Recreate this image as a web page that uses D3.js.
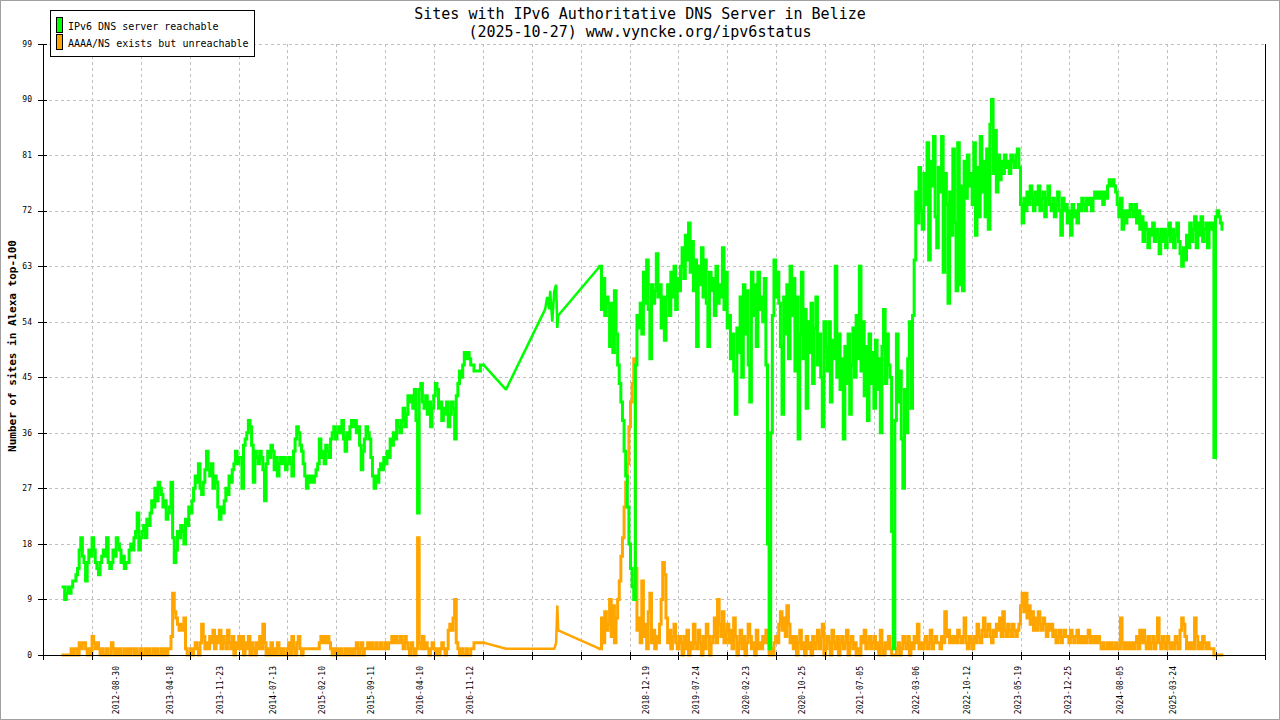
<!DOCTYPE html>
<html><head><meta charset="utf-8">
<script src="https://cdn.jsdelivr.net/npm/d3@7"></script>
<style>
body{margin:0;background:#fff}
svg{display:block}
text{font-family:"DejaVu Sans Mono","Liberation Mono",monospace;fill:#000}
</style>
</head><body>
<svg id="chart" width="1280" height="720"></svg>
<script>
const titleLines = ["Sites with IPv6 Authoritative DNS Server in Belize", "(2025-10-27) www.vyncke.org/ipv6status"];
const yAxisTitle = "Number of sites in Alexa top-100";
const seriesNames = ["IPv6 DNS server reachable", "AAAA/NS exists but unreachable"];
const seriesColors = ["#00ff00", "#ffa500"];
const yTicks = [0, 9, 18, 27, 36, 45, 54, 63, 72, 81, 90, 99];
const xDomain = ["2011-10-15", "2026-04-27"];
const xLabels = ["2012-08-30","2013-04-18","2013-11-23","2014-07-13","2015-02-10","2015-09-11","2016-04-10","2016-11-12","2018-12-19","2019-07-24","2020-02-23","2020-10-25","2021-07-05","2022-03-06","2022-10-12","2023-05-19","2023-12-25","2024-08-05","2025-03-24"];
const stepDays = 7;

// Segment 1: weekly samples from 2012-01-10
const seg1Start = "2012-01-10";
const green1 = [
11,9,10,11,10,11,12,12,13,14,
17,19,16,15,12,15,17,16,19,17,
15,14,13,15,16,17,16,19,15,14,
15,17,16,19,18,17,15,16,14,15,
15,17,18,17,19,20,23,17,19,20,
21,19,22,21,23,25,24,27,25,28,
27,26,24,25,22,23,24,28,19,15,
17,20,19,21,20,18,22,21,24,23,
25,27,29,28,31,27,26,28,30,33,
30,29,31,27,29,28,24,22,24,23,
25,27,26,29,28,30,31,33,31,32,
32,27,34,35,36,38,37,34,28,33,
32,31,33,32,30,25,31,33,32,34,
33,30,32,29,31,32,31,32,30,31,
32,31,29,33,35,37,36,34,33,31,
29,27,29,28,29,28,29,30,31,35,
32,33,31,34,33,32,35,36,37,35,
36,37,36,38,35,33,36,35,37,38,
37,38,36,37,34,30,33,35,37,36,
35,32,29,27,29,28,30,31,30,32,
31,33,32,35,34,36,35,38,37,36,
38,40,37,39,42,41,42,40,43,38,
23,43,44,41,40,42,39,41,37,40,
42,44,43,40,41,38,40,39,41,37,
39,41,40,35,42,44,46,45,47,49,
48,49,48,47,47,46,46,46,46,47,
47,47];
const orange1 = [
0,0,0,0,0,1,0,1,1,0,
2,1,2,2,1,0,1,0,3,2,
1,2,1,0,1,0,0,1,0,0,
2,1,0,1,0,1,0,0,1,0,
1,0,1,1,0,1,0,0,1,0,
0,1,0,1,0,0,1,0,1,0,
0,1,0,1,0,1,1,3,10,7,
6,5,4,5,4,6,1,0,0,1,
0,1,2,1,0,2,5,3,1,2,
1,3,2,4,1,3,2,4,1,3,
2,1,4,2,1,3,0,2,1,3,
1,3,0,2,1,3,0,2,1,0,
2,1,3,1,5,2,0,1,0,2,
0,1,0,2,1,0,1,0,0,1,
2,0,3,1,0,2,3,1,0,1,
1,1,1,1,1,1,1,1,1,2,
3,2,3,2,3,2,1,0,1,0,
1,0,1,0,0,1,0,1,0,1,
0,1,2,0,1,2,0,1,1,2,
1,2,1,1,2,1,1,2,1,1,
2,1,2,2,3,2,3,2,2,3,
2,1,3,2,1,0,2,1,0,1,
19,2,1,3,1,2,1,0,1,2,
1,0,1,0,1,2,1,0,1,4,
5,4,6,9,2,1,0,1,0,0,
1,0,0,1,1,2,2,2,2,2,
2,2];

// Sparse period 2017
const gapDates = ["2017-04-17","2017-10-04","2017-10-13","2017-10-22","2017-10-26","2017-11-04","2017-11-13","2017-11-21","2017-11-26","2017-11-30"];
const gapGreen = [43,56,58,56,59,54,59,60,53,55];
const gapOrange = [1,1,1,1,1,1,1,2,8,4];

// Segment 3: weekly samples from 2018-05-30
const seg3Start = "2018-05-30";
const green3 = [
63,56,61,55,58,57,50,57,49,59,
52,47,44,41,38,33,29,24,18,14,
11,9,47,55,53,57,52,62,57,64,
56,48,60,57,59,65,58,60,53,58,
51,58,60,55,62,58,63,56,61,59,
63,66,61,68,64,70,62,67,59,64,
50,63,60,66,58,64,57,50,62,59,
61,55,63,57,60,58,66,56,62,53,
55,48,52,46,39,53,49,58,45,60,
52,59,47,41,62,55,60,50,62,56,
58,54,61,47,18,1,36,55,64,58,
62,57,50,39,58,52,60,48,63,55,
61,46,58,35,52,62,48,56,40,54,
49,57,44,53,58,47,52,45,37,54,
50,46,54,41,51,48,63,45,52,43,
48,35,50,44,52,39,47,53,45,55,
48,63,46,54,42,50,38,52,44,49,
40,51,43,48,36,50,56,44,52,47,
45,20,1,38,52,41,46,35,27,43,
36,48,54,40,55,64,75,70,79,72,
69,78,73,83,64,80,76,84,71,66,
79,75,84,62,78,73,57,75,68,82,
70,59,83,60,76,59,80,74,81,76,
78,73,83,68,79,71,84,75,80,71,
82,69,86,90,78,85,75,81,77,80,
78,81,79,80,78,81,80,79,81,82,
79,73,70,74,72,75,73,76,74,72,
75,73,76,72,74,75,71,74,76,73,
72,74,71,73,75,72,68,74,72,73,
70,72,68,73,71,72,70,73,72,74,
73,72,74,73,74,72,74,75,74,75,
74,75,73,75,74,76,77,76,77,76,
75,73,71,74,69,72,70,72,71,73,
72,71,73,70,72,69,71,67,70,69,
66,69,68,70,67,69,68,65,69,67,
69,66,68,70,67,69,66,68,70,67,
65,63,66,64,68,66,70,67,69,71,
66,70,68,71,67,69,70,66,70,69,
70,32,71,72,71,70,69];
const orange3 = [
1,6,2,7,4,5,9,3,8,2,
6,9,12,16,19,24,28,31,37,41,
44,48,14,4,6,2,12,3,5,1,
7,10,2,4,1,3,2,5,9,15,
13,6,2,4,1,3,5,2,1,3,
2,0,3,1,4,0,2,1,5,2,
1,4,2,0,3,1,5,3,0,2,
3,6,2,9,5,3,7,2,4,5,
2,4,1,6,3,0,2,4,1,3,
0,2,5,3,1,2,0,4,1,2,
1,3,2,4,2,0,1,0,2,3,
2,5,7,4,6,3,8,5,2,3,
1,3,0,2,4,1,2,0,3,1,
2,0,3,1,2,4,1,3,5,0,
1,3,2,0,4,2,1,3,0,2,
3,1,2,4,0,2,3,1,2,0,
1,0,3,2,4,1,2,3,1,2,
3,1,2,0,4,1,0,2,1,3,
1,0,0,0,1,2,0,1,3,2,
1,3,0,2,1,3,2,5,1,2,
1,2,3,1,2,4,1,2,3,2,
2,1,3,2,7,3,4,2,3,2,
3,2,4,3,2,3,6,2,1,3,
2,1,3,2,5,3,2,4,6,3,
4,5,3,2,4,3,5,4,6,3,
7,4,3,5,4,3,5,4,3,4,
5,8,10,7,10,6,8,5,7,4,
6,4,7,5,4,6,5,3,5,4,
5,3,4,2,3,4,2,3,4,3,
3,2,4,3,2,3,4,2,3,2,
3,2,3,4,2,3,2,3,2,3,
2,1,2,1,1,2,1,2,1,1,
2,1,1,6,2,1,2,1,2,1,
2,1,2,3,1,4,2,4,2,1,
3,1,2,3,1,2,6,2,1,3,
2,1,3,2,1,2,1,3,2,1,
4,6,5,3,1,2,1,2,1,6,
3,1,2,1,3,2,1,2,1,1,
1,0,0,0,0,0,0];

const parse = d3.utcParse("%Y-%m-%d");
function segment(start, g, o) {
  const s = parse(start);
  return g.map((v, i) => ({date: d3.utcDay.offset(s, i * stepDays), g: v, o: o[i]}));
}
const seg1 = segment(seg1Start, green1, orange1);
const seg3 = segment(seg3Start, green3, orange3);
const gap = [seg1[seg1.length - 1],
  ...gapDates.map((d, i) => ({date: parse(d), g: gapGreen[i], o: gapOrange[i]})),
  seg3[0]];

const svg = d3.select("#chart");
const L = 43, R = 1265, T = 44, B = 655;
const x = d3.scaleUtc().domain(xDomain.map(parse)).range([L, R]);
const y = d3.scaleLinear().domain([0, 99]).range([B, T]);

// outer frame
svg.append("rect").attr("x", 0.5).attr("y", 0.5).attr("width", 1279).attr("height", 719)
  .attr("fill", "#fff").attr("stroke", "#a0a0a0");

// x tick positions: 25 equal intervals
const d0 = x.domain()[0].getTime(), d1 = x.domain()[1].getTime();
const xTicks = d3.range(26).map(k => new Date(d0 + k * (d1 - d0) / 25));

const grid = svg.append("g").attr("stroke", "#c0c0c0").attr("stroke-dasharray", "3,3").attr("shape-rendering", "crispEdges");
grid.selectAll("line.h").data(yTicks.filter(v => v > 0)).join("line")
  .attr("x1", L).attr("x2", R).attr("y1", d => Math.round(y(d)) + 0.5).attr("y2", d => Math.round(y(d)) + 0.5);
grid.selectAll("line.v").data(xTicks.slice(1, 25)).join("line")
  .attr("y1", T).attr("y2", B).attr("x1", d => Math.round(x(d)) + 0.5).attr("x2", d => Math.round(x(d)) + 0.5);

// series lines: dense periods as steps, the sparse 2017 period as straight segments
function drawSeries(key, color) {
  const stepLine = d3.line().x(d => x(d.date)).y(d => y(d[key])).curve(d3.curveStepAfter);
  const straight = d3.line().x(d => x(d.date)).y(d => y(d[key]));
  const g = svg.append("g").attr("fill", "none").attr("stroke", color).attr("stroke-width", 3)
    .attr("stroke-linejoin", "miter").attr("stroke-linecap", "square");
  g.append("path").datum(seg1).attr("d", stepLine);
  g.append("path").datum(gap).attr("d", straight).attr("stroke-width", 2.5).attr("stroke-linejoin", "bevel").attr("stroke-linecap", "butt");
  g.append("path").datum(seg3).attr("d", stepLine);
}
drawSeries("o", seriesColors[1]);
drawSeries("g", seriesColors[0]);

// axes
const ax = svg.append("g").attr("stroke", "#000").attr("shape-rendering", "crispEdges");
ax.append("line").attr("x1", L + 0.5).attr("x2", L + 0.5).attr("y1", T).attr("y2", B);
ax.append("line").attr("x1", R + 0.5).attr("x2", R + 0.5).attr("y1", T).attr("y2", B);
ax.append("line").attr("x1", L).attr("x2", R).attr("y1", B + 0.5).attr("y2", B + 0.5);
ax.selectAll("line.yt").data(yTicks).join("line")
  .attr("x1", L - 5).attr("x2", L + 4).attr("y1", d => Math.round(y(d)) + 0.5).attr("y2", d => Math.round(y(d)) + 0.5);
ax.selectAll("line.xt").data(xTicks).join("line")
  .attr("y1", B - 3).attr("y2", B + 5).attr("x1", d => Math.round(x(d)) + 0.5).attr("x2", d => Math.round(x(d)) + 0.5);

svg.append("g").selectAll("text").data(yTicks).join("text")
  .attr("x", 32).attr("y", d => y(d)).attr("dy", "0.35em").attr("text-anchor", "end")
  .attr("font-size", 8).text(d => d);

svg.append("g").selectAll("text").data(xLabels).join("text")
  .attr("transform", d => `translate(${x(parse(d))},666) rotate(-90)`)
  .attr("dy", "0.35em").attr("text-anchor", "end").attr("font-size", 8).text(d => d);

// titles
svg.append("g").selectAll("text").data(titleLines).join("text")
  .attr("x", 640).attr("y", (d, i) => 18.5 + i * 18).attr("text-anchor", "middle")
  .attr("font-size", 15).text(d => d);
svg.append("text").attr("transform", "translate(16,346) rotate(-90)").attr("text-anchor", "middle")
  .attr("font-size", 11).attr("font-weight", "bold").text(yAxisTitle);

// legend
const lg = svg.append("g");
lg.append("rect").attr("x", 50.5).attr("y", 10.5).attr("width", 204).attr("height", 46)
  .attr("fill", "#fff").attr("stroke", "#000");
seriesNames.forEach((n, i) => {
  lg.append("rect").attr("x", 56.5).attr("y", 17.5 + i * 17).attr("width", 6).attr("height", 15)
    .attr("fill", seriesColors[i]).attr("stroke", "#000");
  lg.append("text").attr("x", 68).attr("y", 29.5 + i * 17).attr("font-size", 10).text(n);
});
</script>
</body></html>
